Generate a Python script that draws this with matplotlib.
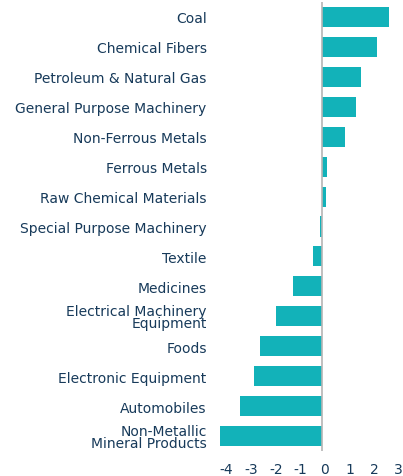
import matplotlib
matplotlib.use("Agg")
import matplotlib.pyplot as plt
from matplotlib.transforms import ScaledTranslation

# Output growth by industry
industries = [
    "Coal",
    "Chemical Fibers",
    "Petroleum & Natural Gas",
    "General Purpose Machinery",
    "Non-Ferrous Metals",
    "Ferrous Metals",
    "Raw Chemical Materials",
    "Special Purpose Machinery",
    "Textile",
    "Medicines",
    "Electrical Machinery\nEquipment",
    "Foods",
    "Electronic Equipment",
    "Automobiles",
    "Non-Metallic\nMineral Products",
]
values = [2.71, 2.22, 1.57, 1.38, 0.90, 0.18, 0.14, -0.08,
          -0.39, -1.20, -1.90, -2.53, -2.79, -3.35, -4.18]
xticks = [-4, -3, -2, -1, 0, 1, 2, 3]

bar_color = "#12b2b9"
text_color = "#173a5a"

W, H = 403, 477
fig = plt.figure(figsize=(W / 100, H / 100), dpi=100)
ax = fig.add_axes([215 / W, 1 - 452 / H, (403 - 215) / W, (452 - 3) / H])

pos = list(range(len(industries)))
ax.barh(pos, values, height=0.67, color=bar_color, zorder=2)
ax.axvline(0, color="#b5b5b5", linewidth=1.2, zorder=3)

ax.set_ylim(len(industries) - 0.5, -0.5)
ax.set_xlim(-4.37, 3.28)

ax.set_yticks(pos)
ax.set_yticklabels(industries, fontsize=10, color=text_color, linespacing=0.88)
ax.set_xticks(xticks)
ax.set_xticklabels([str(t) for t in xticks], fontsize=10, color=text_color)
ax.tick_params(axis="y", length=0, pad=6)
ax.tick_params(axis="x", length=0, pad=8)

# x labels sit a little right of their ticks in the original
shift = ScaledTranslation(2.5 / 100, 0, fig.dpi_scale_trans)
for lab in ax.get_xticklabels():
    lab.set_transform(lab.get_transform() + shift)

for s in ax.spines.values():
    s.set_visible(False)

fig.savefig("out.png", dpi=100)
